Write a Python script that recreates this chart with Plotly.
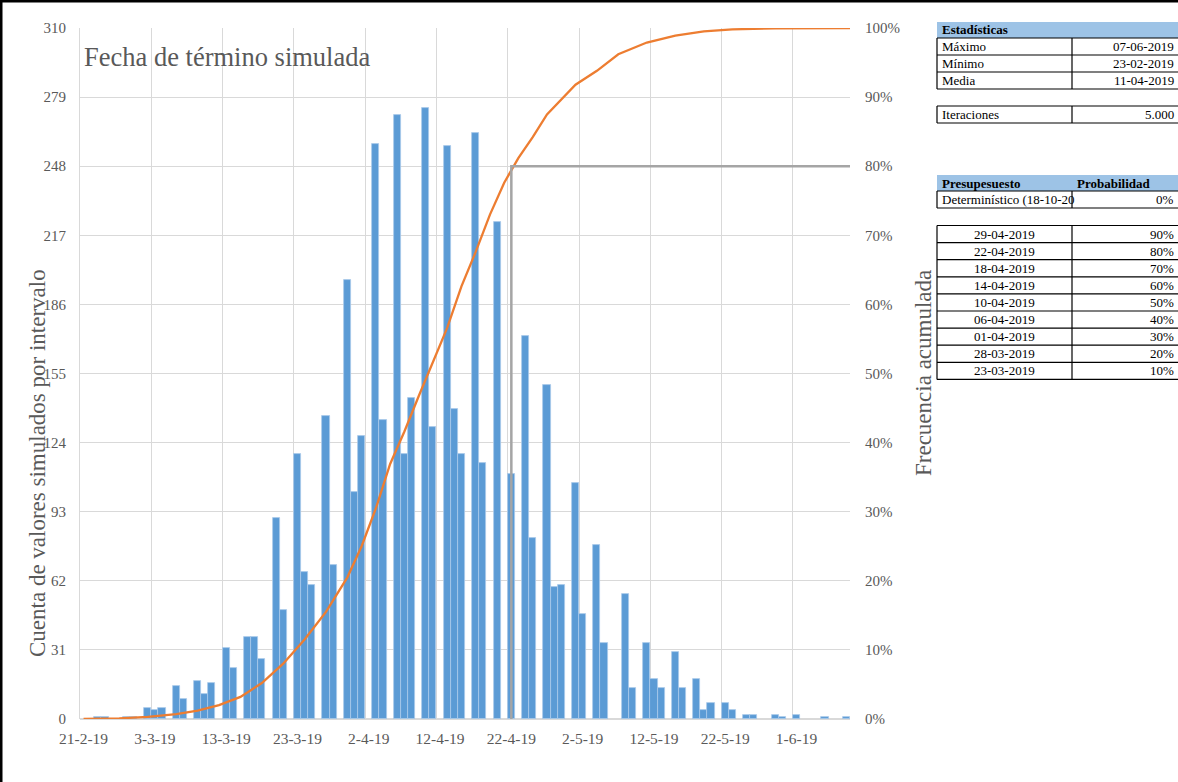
import pandas as pd
import plotly.graph_objects as go

# ---------------- data ----------------
bar_dates = ["2019-02-23", "2019-02-24", "2019-02-27", "2019-02-28",
             "2019-03-02", "2019-03-03", "2019-03-04", "2019-03-06", "2019-03-07",
             "2019-03-09", "2019-03-10", "2019-03-11", "2019-03-13", "2019-03-14",
             "2019-03-16", "2019-03-17", "2019-03-18", "2019-03-20", "2019-03-21",
             "2019-03-23", "2019-03-24", "2019-03-25", "2019-03-27", "2019-03-28",
             "2019-03-30", "2019-03-31", "2019-04-01", "2019-04-03", "2019-04-04",
             "2019-04-06", "2019-04-07", "2019-04-08", "2019-04-10", "2019-04-11",
             "2019-04-13", "2019-04-14", "2019-04-15", "2019-04-17", "2019-04-18",
             "2019-04-20", "2019-04-22", "2019-04-24", "2019-04-25",
             "2019-04-27", "2019-04-28", "2019-04-29", "2019-05-01", "2019-05-02",
             "2019-05-04", "2019-05-05", "2019-05-08", "2019-05-09",
             "2019-05-11", "2019-05-12", "2019-05-13", "2019-05-15", "2019-05-16",
             "2019-05-18", "2019-05-19", "2019-05-20", "2019-05-22", "2019-05-23",
             "2019-05-25", "2019-05-26", "2019-05-29", "2019-05-30", "2019-06-01",
             "2019-06-05", "2019-06-08"]
bar_counts = [1, 1, 1, 1,
              5, 4, 5, 15, 9,
              17, 11, 16, 32, 23,
              37, 37, 27, 90, 49,
              119, 66, 60, 136, 69,
              197, 102, 127, 258, 134,
              271, 119, 144, 274, 131,
              257, 139, 119, 263, 115,
              223, 110, 172, 81,
              150, 59, 60, 106, 47,
              78, 34, 56, 14,
              34, 18, 14, 30, 14,
              18, 4, 7, 7, 4,
              2, 2, 2, 1, 2,
              1, 1]

cum_dates = ["2019-02-21", "2019-02-26", "2019-03-02", "2019-03-06", "2019-03-09",
             "2019-03-12", "2019-03-15", "2019-03-18", "2019-03-21", "2019-03-24",
             "2019-03-27", "2019-03-30", "2019-04-01", "2019-04-03", "2019-04-05",
             "2019-04-07", "2019-04-09", "2019-04-11", "2019-04-13", "2019-04-15",
             "2019-04-17", "2019-04-19", "2019-04-21", "2019-04-23", "2019-04-25",
             "2019-04-27", "2019-04-29", "2019-05-01", "2019-05-04", "2019-05-07",
             "2019-05-11", "2019-05-15", "2019-05-19", "2019-05-23", "2019-05-29",
             "2019-06-09"]
cum_pct = [0.0, 0.001, 0.003, 0.007, 0.012,
           0.020, 0.032, 0.052, 0.080, 0.115,
           0.155, 0.205, 0.250, 0.305, 0.369,
           0.416, 0.467, 0.517, 0.566, 0.626,
           0.676, 0.730, 0.776, 0.812, 0.842,
           0.875, 0.897, 0.918, 0.938, 0.962,
           0.979, 0.989, 0.995, 0.998, 0.9995,
           1.0]

p80_date = "2019-04-22"
p80_value = 0.80
axis_end = "2019-06-09"

xtick_dates = ["2019-02-21", "2019-03-03", "2019-03-13", "2019-03-23", "2019-04-02",
               "2019-04-12", "2019-04-22", "2019-05-02", "2019-05-12", "2019-05-22",
               "2019-06-01"]
xtick_text = ["21-2-19", "3-3-19", "13-3-19", "23-3-19", "2-4-19", "12-4-19",
              "22-4-19", "2-5-19", "12-5-19", "22-5-19", "1-6-19"]
ytick_vals = [0, 31, 62, 93, 124, 155, 186, 217, 248, 279, 310]
y2tick_vals = [0, 0.1, 0.2, 0.3, 0.4, 0.5, 0.6, 0.7, 0.8, 0.9, 1.0]

title_text = "Fecha de término simulada"
y_title = "Cuenta de valores simulados por intervalo"
y2_title = "Frecuencia acumulada"

stats_header = "Estadísticas"
stats_labels = ["Máximo", "Mínimo", "Media"]
stats_values = ["07-06-2019", "23-02-2019", "11-04-2019"]
iter_label = "Iteraciones"
iter_value = "5.000"
budget_headers = ["Presupesuesto", "Probabilidad"]
det_label = "Determinístico (18-10-20"
det_value = "0%"
pct_dates = ["29-04-2019", "22-04-2019", "18-04-2019", "14-04-2019", "10-04-2019",
             "06-04-2019", "01-04-2019", "28-03-2019", "23-03-2019"]
pct_probs = ["90%", "80%", "70%", "60%", "50%", "40%", "30%", "20%", "10%"]

# ---------------- layout helpers ----------------
FW, FH = 1178, 782
L, R, T, B = 80, 850, 28, 719
PW, PH = R - L, B - T


def px(x):
    return (x - L) / PW


def py(y):
    return (B - y) / PH


SERIF = "Liberation Serif, Times New Roman, serif"
GRAY = "#595959"
GRID = "#d9d9d9"
DAY_MS = 86400000

fig = go.Figure()

fig.add_trace(go.Bar(
    x=pd.to_datetime(bar_dates), y=bar_counts,
    xperiod=DAY_MS, xperiodalignment="middle",
    width=DAY_MS,
    marker=dict(color="#5b9bd5", line=dict(color="#a9c9ea", width=0.8)),
    name="Frecuencia", showlegend=False,
))

fig.add_trace(go.Scatter(
    x=pd.to_datetime(cum_dates), y=cum_pct, yaxis="y2",
    xperiod=DAY_MS, xperiodalignment="middle",
    mode="lines", line=dict(color="#ed7d31", width=2.3),
    showlegend=False,
))

fig.add_trace(go.Scatter(
    x=pd.to_datetime([p80_date, p80_date, axis_end]),
    y=[0, p80_value, p80_value], yaxis="y2",
    xperiod=DAY_MS, xperiodalignment="middle",
    mode="lines", line=dict(color="#a5a5a5", width=2.5),
    showlegend=False,
))

tick_pos = pd.to_datetime(xtick_dates) + pd.Timedelta(hours=12)

fig.update_layout(
    width=FW, height=FH,
    margin=dict(l=L, r=FW - R, t=T, b=FH - B),
    paper_bgcolor="white", plot_bgcolor="white",
    font=dict(family=SERIF, color=GRAY),
    bargap=0,
    xaxis=dict(
        type="date", range=[pd.Timestamp("2019-02-21"), pd.Timestamp(axis_end)],
        tickvals=list(tick_pos), ticktext=xtick_text, ticks="",
        showgrid=False, tickfont=dict(size=15.5, color=GRAY, family=SERIF),
        ticklabelstandoff=8,
        minor=dict(showgrid=True, gridcolor=GRID, gridwidth=1,
                   tick0="2019-02-21", dtick=10 * DAY_MS),
        automargin=False, showline=False, zeroline=False,
    ),
    yaxis=dict(
        range=[0, 310], tickvals=ytick_vals, ticks="",
        showgrid=True, gridcolor=GRID, gridwidth=1,
        zeroline=True, zerolinecolor=GRID, zerolinewidth=1.5,
        showline=True, linecolor=GRID, linewidth=1,
        tickfont=dict(size=15, color=GRAY, family=SERIF),
        ticklabelstandoff=10, automargin=False,
    ),
    yaxis2=dict(
        range=[0, 1], overlaying="y", side="right",
        tickvals=y2tick_vals, tickformat=".0%", ticks="",
        showgrid=False, zeroline=False,
        tickfont=dict(size=15, color=GRAY, family=SERIF),
        ticklabelstandoff=14, automargin=False,
    ),
)

ann = []
ann.append(dict(text=title_text, x=px(82), y=py(57), xanchor="left", yanchor="middle",
                font=dict(size=26.5, color=GRAY, family=SERIF)))
ann.append(dict(text=y_title, x=px(37), y=py(463), textangle=-90,
                xanchor="center", yanchor="middle",
                font=dict(size=23, color=GRAY, family=SERIF)))
ann.append(dict(text=y2_title, x=px(923), y=py(373), textangle=-90,
                xanchor="center", yanchor="middle",
                font=dict(size=23, color=GRAY, family=SERIF)))

shapes = []
HDR = "#9dc3e6"
TX0, TXD, TXR = 937, 1072, 1190
VAL_X = 1176
TFONT = dict(size=13, color="black", family=SERIF)


def hline(y, x0=TX0, x1=TXR, w=1.2):
    shapes.append(dict(type="line", xref="paper", yref="paper",
                       x0=px(x0), x1=px(x1), y0=py(y), y1=py(y),
                       line=dict(color="black", width=w)))


def vline(x, y0, y1, w=1.2):
    shapes.append(dict(type="line", xref="paper", yref="paper",
                       x0=px(x), x1=px(x), y0=py(y0), y1=py(y1),
                       line=dict(color="black", width=w)))


def fill(y0, y1, x0=TX0, x1=TXR):
    shapes.append(dict(type="rect", xref="paper", yref="paper",
                       x0=px(x0), x1=px(x1), y0=py(y0), y1=py(y1),
                       fillcolor=HDR, line=dict(width=0), layer="below"))


def text(s, x, y, anchor="left", bold=False):
    ann.append(dict(text=f"<b>{s}</b>" if bold else s, x=px(x), y=py(y),
                    xanchor=anchor, yanchor="middle", font=TFONT))


# Stats table
fill(22, 38)
text(stats_header, 940, 30, bold=True)
rows_y = [38, 55, 72, 89]
for yy in rows_y:
    hline(yy)
vline(TX0, 38, 89)
vline(TXD, 38, 89)
for i, (lab, val) in enumerate(zip(stats_labels, stats_values)):
    yc = (rows_y[i] + rows_y[i + 1]) / 2
    text(lab, 940, yc)
    text(val, VAL_X, yc, anchor="right")

# Iterations
hline(106)
hline(123)
vline(TX0, 106, 123)
vline(TXD, 106, 123)
text(iter_label, 940, 115)
text(iter_value, VAL_X, 115, anchor="right")

# Budget table
fill(175, 191)
text(budget_headers[0], 940, 183, bold=True)
text(budget_headers[1], 1075, 183, bold=True)
hline(191)
hline(208)
vline(TX0, 191, 208)
vline(TXD, 191, 208)
text(det_label, 940, 200)
text(det_value, VAL_X, 200, anchor="right")

top, rh = 225.5, 17.1
for i in range(len(pct_dates) + 1):
    hline(top + i * rh)
vline(TX0, top, top + rh * len(pct_dates))
vline(TXD, top, top + rh * len(pct_dates))
for i, (d, p) in enumerate(zip(pct_dates, pct_probs)):
    yc = top + rh * (i + 0.5)
    text(d, (TX0 + TXD) / 2, yc, anchor="center")
    text(p, VAL_X, yc, anchor="right")

# outer black frame (top and left)
shapes.append(dict(type="line", xref="paper", yref="paper",
                   x0=px(0), x1=px(FW), y0=py(1), y1=py(1),
                   line=dict(color="black", width=3)))
shapes.append(dict(type="line", xref="paper", yref="paper",
                   x0=px(1), x1=px(1), y0=py(0), y1=py(FH),
                   line=dict(color="black", width=3)))

for a in ann:
    a.setdefault("xref", "paper")
    a.setdefault("yref", "paper")
    a["showarrow"] = False
fig.update_layout(annotations=ann, shapes=shapes)

fig.write_html("out.html",
               config={"displayModeBar": False},
               post_script="document.body.style.margin='0px';"
                           "document.body.style.overflow='hidden';")
